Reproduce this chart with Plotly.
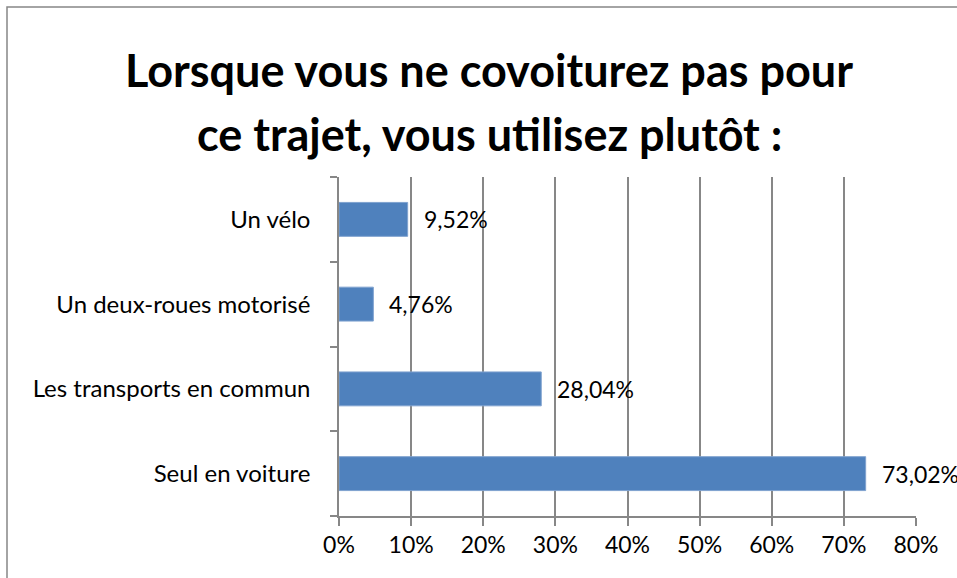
import plotly.graph_objects as go

# --- Data (bottom to top, as drawn) ---
categories = ["Seul en voiture", "Les transports en commun",
              "Un deux-roues motorisé", "Un vélo"]
shares = [73.02, 28.04, 4.76, 9.52]
x_ticks = [0, 0.1, 0.2, 0.3, 0.4, 0.5, 0.6, 0.7, 0.8]
title_lines = ["Lorsque vous ne covoiturez pas pour",
               "ce trajet, vous utilisez plutôt :"]

W, H = 957, 578
L, R, T, B = 339, 41, 177, 62
grey = "#878787"
font = "Lato, Calibri, sans-serif"

fig = go.Figure(go.Bar(
    x=[v / 100 for v in shares],
    y=categories,
    orientation="h",
    marker=dict(color="#4F81BD", line=dict(color="#7FA2CF", width=1)),
    hoverinfo="skip",
))

# value labels to the right of each bar
for cat, v in zip(categories, shares):
    fig.add_annotation(
        x=v / 100, y=cat, xref="x", yref="y",
        text=f"{v:.2f}".replace(".", ",") + "%",
        showarrow=False, xanchor="left", xshift=14,
        font=dict(family=font, size=23, color="#000"),
    )

# two-line title, placed by pixel
pw, ph = W - L - R, H - T - B
def px_x(p):
    return (p - L) / pw
def px_y(p):
    return (H - B - p) / ph

for line, ypix in zip(title_lines, [70, 134]):
    fig.add_annotation(
        x=px_x(489), y=px_y(ypix), xref="paper", yref="paper",
        text=f"<b>{line}</b>", showarrow=False,
        xanchor="center", yanchor="middle",
        font=dict(family=font, size=45, color="#000"),
    )

# chart frame (cut off at right and bottom in the reference)
fig.add_shape(
    type="rect", xref="paper", yref="paper",
    x0=px_x(7), y0=px_y(7), x1=px_x(W + 20), y1=px_y(H + 20),
    line=dict(color=grey, width=1.5), layer="below",
)

fig.update_layout(
    width=W, height=H,
    margin=dict(l=L, r=R, t=T, b=B),
    paper_bgcolor="white", plot_bgcolor="white",
    bargap=0.6, showlegend=False,
    font=dict(family=font, size=24, color="#000"),
    xaxis=dict(
        range=[0, 0.8], tickvals=x_ticks, tickformat=".0%",
        showgrid=True, gridcolor=grey, gridwidth=1.5,
        showline=True, linecolor=grey, linewidth=1.5,
        ticks="outside", ticklen=8, tickcolor=grey, tickwidth=1.5,
        zeroline=False, tickfont=dict(size=23),
    ),
    yaxis=dict(
        categoryorder="array", categoryarray=categories,
        showgrid=False, showline=True, linecolor=grey, linewidth=1.5,
        ticks="outside", tickson="boundaries", ticklen=7,
        tickcolor=grey, tickwidth=1.5,
        ticklabelstandoff=22, tickfont=dict(size=24),
    ),
)

fig.write_html(
    "out.html",
    config={"displayModeBar": False},
    post_script="document.body.style.margin='0';document.body.style.overflow='hidden';",
)
